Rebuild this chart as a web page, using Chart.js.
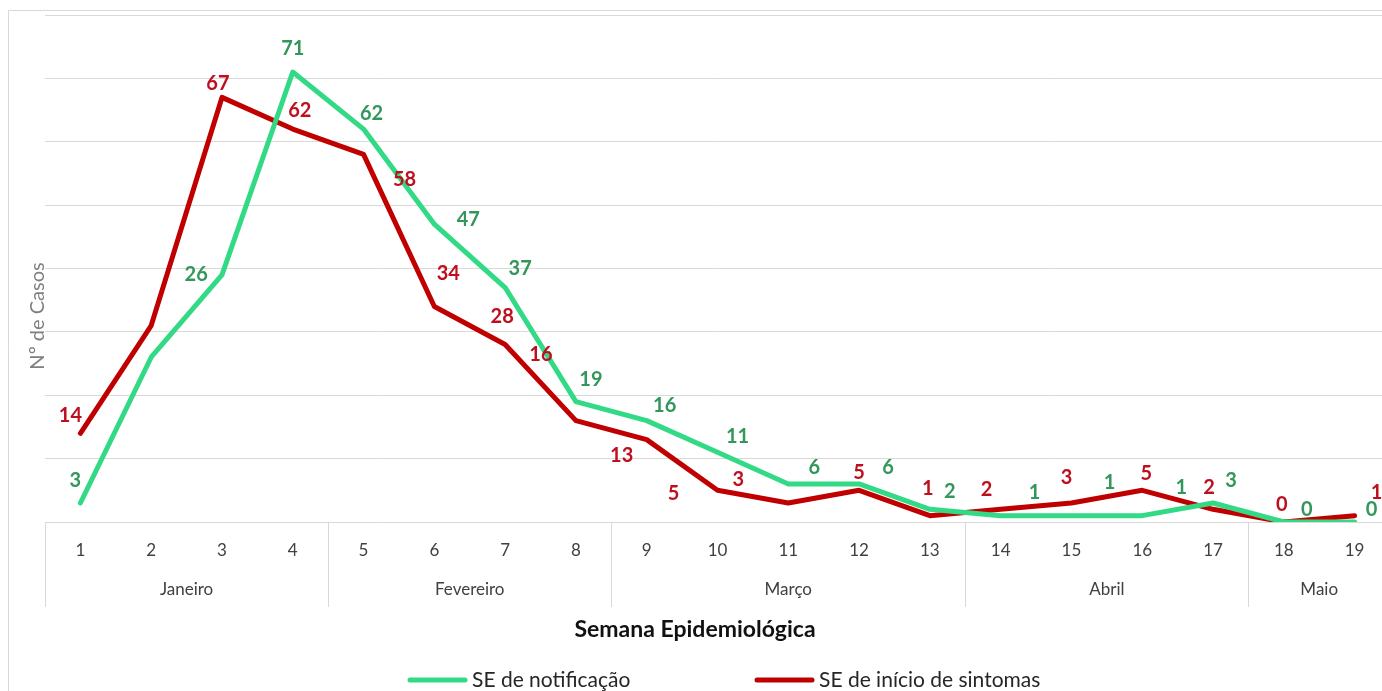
<!DOCTYPE html>
<html lang="pt">
<head>
  <meta charset="UTF-8" />
  <title>Casos por Semana Epidemiológica</title>
  <script src="https://cdn.jsdelivr.net/npm/chart.js"></script>
  <style>
    html, body { margin: 0; padding: 0; background: #fff; overflow: hidden; }
    canvas { display: block; }
  </style>
</head>
<body>

<canvas id="myChart" width="1400" height="691"></canvas>

<script>
  // data
  const weeks = ['1','2','3','4','5','6','7','8','9','10','11','12','13','14','15','16','17','18','19'];
  const months = ['Janeiro', 'Fevereiro', 'Março', 'Abril', 'Maio'];
  const weeksPerMonth = [4, 4, 5, 4, 2];
  const seNotificacao = [3, 26, 39, 71, 62, 47, 37, 19, 16, 11, 6, 6, 2, 1, 1, 1, 3, 0, 0];
  const seSintomas = [14, 31, 67, 62, 58, 34, 28, 16, 13, 5, 3, 5, 1, 2, 3, 5, 2, 0, 1];

  const GREEN = '#33DA86';
  const GREEN_TXT = '#33965B';
  const RED = '#C00000';
  const RED_TXT = '#BE0F1E';
  const FONT = 'Lato, "Open Sans", sans-serif';

  // where each data label sits relative to its point (null = label not shown)
  const greenLabelOffset = [[-5,-22],[45,-83],null,[0,-23],[8,-16],[34,-5],[15,-19],[15,-22],[18,-15],[20,-16],
    [26,-16],[29,-16],[20,-18],[34,-23],[38,-33],[39,-28],[18,-22],[23,-12],[17,-12]];
  const redLabelOffset = [[-10,-18],null,[-4,-14],[7,-19],[41,25],[14,-33],[-3,-28],[-35,-66],[-25,16],[-44,3],
    [-50,-23],[0,-18],[-2,-27],[-14,-20],[-5,-25],[4,-17],[-4,-22],[-2,-17],[22,-23]];

  const decorations = {
    id: 'decorations',
    afterDatasetsDraw(chart) {
      const c = chart.ctx;
      const x = chart.scales.x;
      const area = chart.chartArea;
      c.save();

      // data labels
      c.textAlign = 'center';
      c.textBaseline = 'middle';
      c.font = 'bold 20px ' + FONT;
      const drawLabels = (dsIndex, offsets, color) => {
        const meta = chart.getDatasetMeta(dsIndex);
        const values = chart.data.datasets[dsIndex].data;
        c.fillStyle = color;
        meta.data.forEach((pt, i) => {
          if (!offsets[i]) return;
          c.fillText(String(values[i]), pt.x + offsets[i][0], pt.y + offsets[i][1]);
        });
      };
      drawLabels(1, redLabelOffset, RED_TXT);
      drawLabels(0, greenLabelOffset, GREEN_TXT);

      // week ticks
      c.fillStyle = '#404040';
      c.font = '17px ' + FONT;
      weeks.forEach((w, i) => c.fillText(w, x.getPixelForValue(i), area.bottom + 29));

      // month groups and separators
      c.strokeStyle = '#d9d9d9';
      c.lineWidth = 1;
      let start = 0;
      const half = (x.getPixelForValue(1) - x.getPixelForValue(0)) / 2;
      const sepAt = px => {
        c.beginPath();
        c.moveTo(Math.round(px) + 0.5, area.bottom);
        c.lineTo(Math.round(px) + 0.5, area.bottom + 85);
        c.stroke();
      };
      sepAt(x.getPixelForValue(0) - half);
      months.forEach((m, k) => {
        const end = start + weeksPerMonth[k] - 1;
        const left = x.getPixelForValue(start) - half;
        const right = x.getPixelForValue(end) + half;
        c.fillText(m, (left + right) / 2, area.bottom + 68);
        sepAt(right);
        start = end + 1;
      });

      // axis titles
      c.fillStyle = '#111';
      c.font = 'bold 23px ' + FONT;
      c.fillText('Semana Epidemiológica', 695, area.bottom + 108);

      c.save();
      c.translate(38, 316);
      c.rotate(-Math.PI / 2);
      c.fillStyle = '#7f7f7f';
      c.font = '20px ' + FONT;
      c.fillText('Nº de Casos', 0, 0);
      c.restore();

      // legend
      c.textAlign = 'left';
      c.font = '21px ' + FONT;
      c.lineWidth = 5;
      c.lineCap = 'round';
      const legendItem = (x0, color, text) => {
        c.strokeStyle = color;
        c.beginPath();
        c.moveTo(x0, 680);
        c.lineTo(x0 + 55, 680);
        c.stroke();
        c.fillStyle = '#262626';
        c.fillText(text, x0 + 62, 680);
      };
      legendItem(410, GREEN, chart.data.datasets[0].label);
      legendItem(757, RED, chart.data.datasets[1].label);

      // outer frame
      c.strokeStyle = '#d9d9d9';
      c.lineWidth = 1;
      c.lineCap = 'butt';
      c.beginPath();
      c.moveTo(8.5, 700);
      c.lineTo(8.5, 10.5);
      c.lineTo(1400, 10.5);
      c.stroke();

      c.restore();
    }
  };

  const ctx = document.getElementById('myChart').getContext('2d');
  const myChart = new Chart(ctx, {
    type: 'line',
    data: {
      labels: weeks,
      datasets: [
        {
          label: 'SE de notificação',
          data: seNotificacao,
          borderColor: GREEN,
          borderWidth: 5,
          pointRadius: 0,
          borderJoinStyle: 'round',
          borderCapStyle: 'round',
          tension: 0
        },
        {
          label: 'SE de início de sintomas',
          data: seSintomas,
          borderColor: RED,
          borderWidth: 5,
          pointRadius: 0,
          borderJoinStyle: 'round',
          borderCapStyle: 'round',
          tension: 0
        }
      ]
    },
    options: {
      responsive: false,
      animation: false,
      layout: {
        padding: { left: 45, top: 15, right: 10, bottom: 161 }
      },
      scales: {
        x: {
          offset: true,
          grid: { display: false },
          ticks: { display: false },
          border: { display: true, color: '#d9d9d9', width: 1 }
        },
        y: {
          min: 0,
          max: 80,
          ticks: { display: false, stepSize: 10 },
          grid: { color: '#d9d9d9', drawTicks: false },
          border: { display: false }
        }
      },
      plugins: {
        legend: { display: false },
        tooltip: { enabled: false }
      }
    },
    plugins: [decorations]
  });
</script>

</body>
</html>
